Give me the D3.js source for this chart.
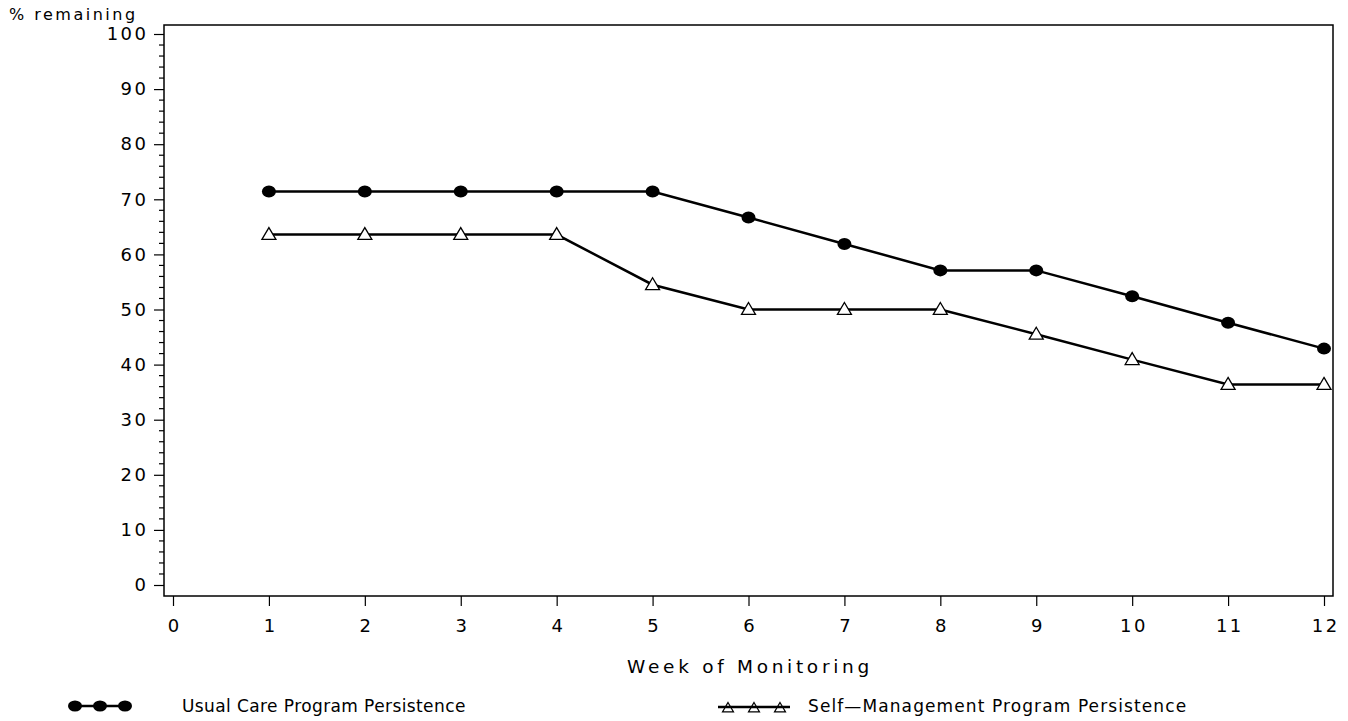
<!DOCTYPE html>
<html>
<head>
<meta charset="utf-8">
<script src="https://cdn.jsdelivr.net/npm/d3@7"></script>
<style>
  html, body { margin: 0; padding: 0; background: #fff; }
  svg text { font-family: "DejaVu Sans", sans-serif; fill: #000; }
</style>
</head>
<body>
<svg id="chart" width="1348" height="721"></svg>
<script>
// Weeks of monitoring and percentage of participants remaining
const weeks = [1, 2, 3, 4, 5, 6, 7, 8, 9, 10, 11, 12];
const usualCare = [71.4, 71.4, 71.4, 71.4, 71.4, 66.7, 61.9, 57.1, 57.1, 52.4, 47.6, 42.9];
const selfManagement = [63.6, 63.6, 63.6, 63.6, 54.5, 50.0, 50.0, 50.0, 45.5, 40.9, 36.4, 36.4];
const xTicks = [0, 1, 2, 3, 4, 5, 6, 7, 8, 9, 10, 11, 12];
const yTicks = [0, 10, 20, 30, 40, 50, 60, 70, 80, 90, 100];
const legendLabels = ["Usual Care Program Persistence", "Self\u2014Management Program Persistence"];

const svg = d3.select("#chart");
const frame = { left: 164, right: 1333, top: 25, bottom: 596 };

const x = d3.scaleLinear().domain([0, 12]).range([173, 1324]);
const y = d3.scaleLinear().domain([0, 100]).range([585, 34]);

// Plot frame
svg.append("rect")
  .attr("x", frame.left).attr("y", frame.top)
  .attr("width", frame.right - frame.left).attr("height", frame.bottom - frame.top)
  .attr("fill", "none").attr("stroke", "#000").attr("stroke-width", 1.5);

// Y axis: major ticks every 10, minor every 2
const yAxis = d3.axisLeft(y).tickValues(yTicks).tickSize(10).tickPadding(8);
const gy = svg.append("g").attr("transform", `translate(${frame.left},0)`).call(yAxis);
gy.select(".domain").remove();
gy.selectAll("line").attr("stroke", "#000").attr("stroke-width", 1.2);
gy.selectAll("text").attr("font-size", 18).attr("letter-spacing", 2.5)
  .style("font-family", "DejaVu Sans, sans-serif").attr("dx", 2.5);

const minorY = d3.range(0, 101, 2).filter(v => v % 10 !== 0);
svg.append("g").selectAll("line").data(minorY).join("line")
  .attr("x1", frame.left - 5).attr("x2", frame.left)
  .attr("y1", d => y(d)).attr("y2", d => y(d))
  .attr("stroke", "#000").attr("stroke-width", 1.2);

// X axis
const xAxis = d3.axisBottom(x).tickValues(xTicks).tickSize(10).tickPadding(13);
const gx = svg.append("g").attr("transform", `translate(0,${frame.bottom})`).call(xAxis);
gx.select(".domain").remove();
gx.selectAll("line").attr("stroke", "#000").attr("stroke-width", 1.2);
gx.selectAll("text").attr("font-size", 18).attr("letter-spacing", 2.5).attr("dx", 1.25)
  .style("font-family", "DejaVu Sans, sans-serif");

// Axis titles
svg.append("text").attr("x", 9).attr("y", 20).attr("font-size", 16)
  .attr("letter-spacing", 2.5).text("% remaining");
svg.append("text").attr("x", 750).attr("y", 673).attr("text-anchor", "middle")
  .attr("font-size", 18.5).attr("letter-spacing", 3.7).text("Week of Monitoring");

const line = d3.line().x(d => x(d[0])).y(d => y(d[1]));
const usualPts = weeks.map((w, i) => [w, usualCare[i]]);
const selfPts = weeks.map((w, i) => [w, selfManagement[i]]);

function triPath(cx, cy, s) {
  return `M${cx},${cy - s}L${cx + s},${cy + s * 0.7}L${cx - s},${cy + s * 0.7}Z`;
}

// Self-management series: line with open triangles
svg.append("path").datum(selfPts).attr("d", line)
  .attr("fill", "none").attr("stroke", "#000").attr("stroke-width", 2.5);
svg.append("g").selectAll("path").data(selfPts).join("path")
  .attr("d", d => triPath(x(d[0]), y(d[1]), 7))
  .attr("fill", "#fff").attr("stroke", "#000").attr("stroke-width", 1.3);

// Usual care series: line with filled dots
svg.append("path").datum(usualPts).attr("d", line)
  .attr("fill", "none").attr("stroke", "#000").attr("stroke-width", 2.5);
svg.append("g").selectAll("ellipse").data(usualPts).join("ellipse")
  .attr("cx", d => x(d[0])).attr("cy", d => y(d[1]))
  .attr("rx", 7).attr("ry", 6).attr("fill", "#000");

// Legend
const ly = 706;
const leg1 = svg.append("g");
leg1.append("line").attr("x1", 70).attr("x2", 130).attr("y1", ly).attr("y2", ly)
  .attr("stroke", "#000").attr("stroke-width", 2.5);
leg1.selectAll("ellipse").data([75, 100, 125]).join("ellipse")
  .attr("cx", d => d).attr("cy", ly).attr("rx", 7).attr("ry", 5.5).attr("fill", "#000");
leg1.append("text").attr("x", 182).attr("y", ly + 6).attr("font-size", 17)
  .attr("letter-spacing", 0.4).text(legendLabels[0]);

const leg2 = svg.append("g");
leg2.append("line").attr("x1", 718).attr("x2", 790).attr("y1", ly + 1).attr("y2", ly + 1)
  .attr("stroke", "#000").attr("stroke-width", 2.5);
leg2.selectAll("path").data([728, 754, 780]).join("path")
  .attr("d", d => triPath(d, ly + 2, 5.5))
  .attr("fill", "none").attr("stroke", "#000").attr("stroke-width", 1.2);
leg2.append("text").attr("x", 808).attr("y", ly + 6).attr("font-size", 17)
  .attr("letter-spacing", 1.1).text(legendLabels[1]);
</script>
</body>
</html>
